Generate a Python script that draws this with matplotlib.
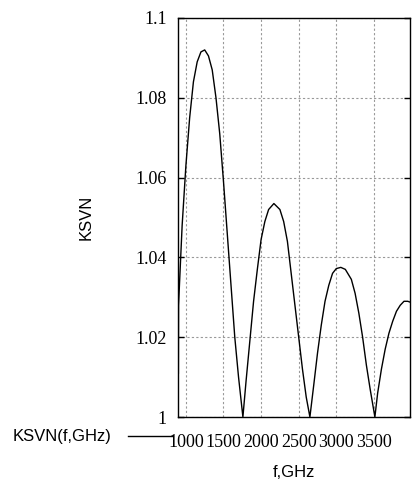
import matplotlib
matplotlib.use("Agg")
import matplotlib.pyplot as plt

f = [900, 902, 950, 1000, 1050, 1100, 1150, 1200, 1250, 1300, 1350, 1400, 1450, 1500, 1550, 1600, 1650, 1700, 1758,
     1800, 1850, 1900, 1950, 2000, 2050, 2100, 2170, 2250, 2300, 2350, 2400, 2450, 2500, 2550, 2600, 2649,
     2700, 2750, 2800, 2850, 2900, 2950, 3000, 3060, 3120, 3200, 3250, 3300, 3350, 3400, 3450, 3513,
     3550, 3600, 3650, 3700, 3750, 3800, 3850, 3900, 3950, 3980]
ksvn = [1.011, 1.028, 1.048, 1.063, 1.075, 1.084, 1.089, 1.0915, 1.092, 1.0905, 1.087, 1.080, 1.071, 1.059, 1.046, 1.033, 1.020, 1.010, 1.0,
        1.009, 1.019, 1.029, 1.037, 1.0445, 1.049, 1.052, 1.0535, 1.052, 1.049, 1.044, 1.036, 1.028, 1.020, 1.012, 1.005, 1.0,
        1.008, 1.016, 1.023, 1.029, 1.033, 1.036, 1.0372, 1.0375, 1.037, 1.0345, 1.031, 1.026, 1.020, 1.013, 1.007, 1.0,
        1.006, 1.012, 1.017, 1.021, 1.024, 1.0265, 1.028, 1.029, 1.029, 1.0288]
xticks = [1000, 1500, 2000, 2500, 3000, 3500]
yticks = [1.0, 1.02, 1.04, 1.06, 1.08, 1.1]
ylabels = ["1", "1.02", "1.04", "1.06", "1.08", "1.1"]

fig = plt.figure(figsize=(4.17, 4.80), dpi=100)
ax = fig.add_axes([178/417, 1-417/480, 232/417, 399/480])
line, = ax.plot(f, ksvn, color="black", lw=1)
ax.set_xlim(895, 3980)
ax.set_ylim(1.0, 1.1)
ax.set_xticks(xticks)
ax.set_yticks(yticks)
ax.set_yticklabels(ylabels)
for lab in ax.get_xticklabels() + ax.get_yticklabels():
    lab.set_fontfamily("Liberation Serif")
    lab.set_fontsize(13)
ax.tick_params(direction="in", length=4, width=1, top=False, right=True, pad=8)
ax.tick_params(axis="x", length=0, pad=12)
ax.grid(True, color="#999999", linestyle=(0, (2, 2)), lw=0.8)
for s in ax.spines.values():
    s.set_linewidth(1)
ax.set_xlabel("f,GHz", fontfamily="Liberation Sans", fontsize=12, labelpad=10)
ax.set_ylabel("KSVN", fontfamily="Liberation Sans", fontsize=12, labelpad=30)
fig.legend([line], ["KSVN(f,GHz)"], loc="center left", bbox_to_anchor=(-0.005, 1-437/480),
           frameon=False, prop={"family": "Liberation Sans", "size": 12},
           markerfirst=False, handlelength=2.6, handletextpad=1.0)
fig.savefig("out.png", dpi=100)
